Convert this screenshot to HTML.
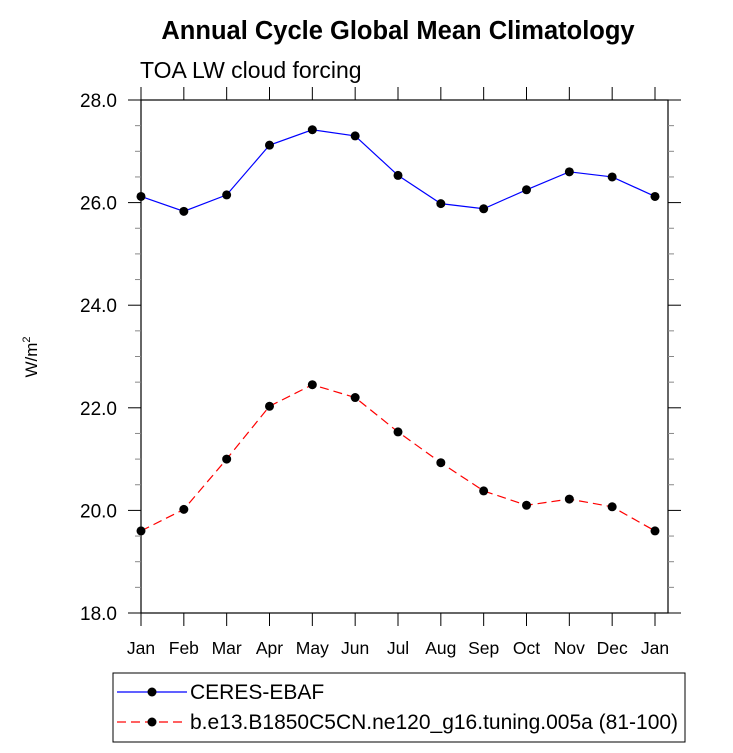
<!DOCTYPE html>
<html><head><meta charset="utf-8"><style>body{margin:0;background:#fff}svg{font-family:"Liberation Sans",sans-serif}</style></head>
<body>
<svg id="c" width="733" height="748">
<text x="398" y="39" text-anchor="middle" font-size="25.5" font-weight="bold">Annual Cycle Global Mean Climatology</text>
<text x="140" y="78" font-size="23">TOA LW cloud forcing</text>
<text transform="translate(37,357) rotate(-90)" text-anchor="middle" font-size="17">W/m<tspan dy="-7" font-size="11">2</tspan></text>
<g id="ax"></g>
<g id="legend">
<rect x="113" y="673" width="572" height="69" fill="none" stroke="#000"/>
<line x1="117" y1="692" x2="187" y2="692" stroke="#00f" stroke-width="1.2"/>
<circle cx="152" cy="692" r="4.5"/>
<text x="190" y="699" font-size="21">CERES-EBAF</text>
<line x1="117" y1="722" x2="187" y2="722" stroke="#f00" stroke-width="1.2" stroke-dasharray="9,5"/>
<circle cx="152" cy="722" r="4.5"/>
<text x="190" y="729" font-size="21">b.e13.B1850C5CN.ne120_g16.tuning.005a (81-100)</text>
</g>
</svg>
<script>
const months=["Jan","Feb","Mar","Apr","May","Jun","Jul","Aug","Sep","Oct","Nov","Dec","Jan"];
const ceres=[26.12,25.83,26.15,27.12,27.42,27.3,26.53,25.98,25.88,26.25,26.6,26.5,26.12];
const model=[19.6,20.02,21.0,22.03,22.45,22.2,21.53,20.93,20.38,20.1,20.22,20.07,19.6];
const yTicks=[18,20,22,24,26,28];
const NS="http://www.w3.org/2000/svg";
const L=141,R=668,T=100,B=613,X0=141,X1=655;
const xs=i=>X0+(X1-X0)*i/12, ys=v=>B-(v-18)/10*(B-T);
const g=document.getElementById('ax');
function mk(t,a,p){const e=document.createElementNS(NS,t);for(const k in a)e.setAttribute(k,a[k]);(p||g).appendChild(e);return e;}
const frame=mk('rect',{x:L,y:T,width:R-L,height:B-T,fill:'none',stroke:'#000','stroke-width':1.2});


for(let v=18;v<=28.001;v+=0.5){
 const maj=Math.abs(v/2-Math.round(v/2))<1e-6, len=maj?13:6, y=ys(v);
 const t1=mk('line',{x1:L-len,y1:y,x2:L,y2:y,stroke:maj?'#000':'#888'});
 
 
 const t2=mk('line',{x1:R,y1:y,x2:R+len,y2:y,stroke:maj?'#000':'#888'});
 
 
}
yTicks.forEach(v=>{const t=mk('text',{x:L-24,y:ys(v)+7,'text-anchor':'end','font-size':19});t.textContent=v.toFixed(1);
 
 });
months.forEach((m,i)=>{const x=xs(i);
 const a=mk('line',{x1:x,y1:T-13,x2:x,y2:T,stroke:'#000'});
 
 
 const b=mk('line',{x1:x,y1:B,x2:x,y2:B+13,stroke:'#000'});
 
 
 const t=mk('text',{x:x,y:B+41,'text-anchor':'middle','font-size':17.5});t.textContent=m;
 
 });
function series(d,col,dash,name){
 const p=mk('polyline',{points:d.map((v,i)=>xs(i)+','+ys(v)).join(' '),fill:'none',stroke:col,'stroke-width':1.2,'stroke-dasharray':dash});
 
 
 d.forEach((v,i)=>{const c=mk('circle',{cx:xs(i),cy:ys(v),r:4.5});
  
  });
}
series(ceres,'#00f','none','ceres');
series(model,'#f00','9,5','model');
</script>
</body></html>
